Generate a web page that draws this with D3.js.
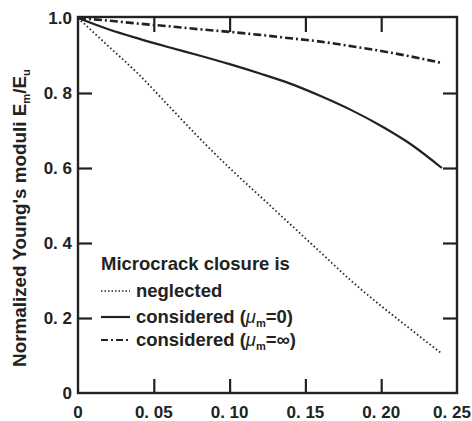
<!DOCTYPE html>
<html>
<head>
<meta charset="utf-8">
<script src="https://cdn.jsdelivr.net/npm/d3@7"></script>
<style>
  body { margin: 0; background: #fff; }
  svg { display: block; }
  .tick-label { font-family: "Liberation Sans", Arial, sans-serif; font-weight: bold; font-size: 17px; fill: #222; }
  .txt { font-family: "Liberation Sans", Arial, sans-serif; font-weight: bold; font-size: 18px; fill: #222; }
</style>
</head>
<body>
<div id="graph"></div>
<script>
// crack density (x) and normalized moduli for the three cases
const xValues = [0, 0.02, 0.04, 0.06, 0.08, 0.10, 0.12, 0.14, 0.16, 0.18, 0.20, 0.22, 0.24];
const neglected = [1.0, 0.925, 0.85, 0.765, 0.68, 0.60, 0.525, 0.45, 0.375, 0.30, 0.232, 0.168, 0.105];
const consideredZero = [1.0, 0.97, 0.945, 0.922, 0.90, 0.877, 0.852, 0.825, 0.792, 0.755, 0.712, 0.662, 0.60];
const consideredInf = [1.0, 0.993, 0.985, 0.978, 0.97, 0.963, 0.955, 0.946, 0.937, 0.925, 0.912, 0.897, 0.88];

const xTicks = [0, 0.05, 0.10, 0.15, 0.20, 0.25];
const xTickLabels = ["0", "0. 05", "0. 10", "0. 15", "0. 20", "0. 25"];
const yTicks = [0, 0.2, 0.4, 0.6, 0.8, 1.0];
const yTickLabels = ["0", "0. 2", "0. 4", "0. 6", "0. 8", "1.0"];

const width = 472, height = 421;
const margin = { left: 78, right: 457, top: 18, bottom: 393 };

const svg = d3.select("#graph").append("svg")
    .attr("width", width)
    .attr("height", height);

const xScale = d3.scaleLinear().domain([0, 0.25]).range([margin.left, margin.right]);
const yScale = d3.scaleLinear().domain([0, 1]).range([margin.bottom, margin.top]);

const tickLen = 14;

// axes with inward ticks on all four sides
const xAxisBottom = d3.axisTop(xScale).tickValues(xTicks.slice(1, -1)).tickSize(tickLen).tickFormat("");
const xAxisTop = d3.axisBottom(xScale).tickValues(xTicks.slice(1, -1)).tickSize(tickLen).tickFormat("");
const yAxisLeft = d3.axisRight(yScale).tickValues(yTicks.slice(1, -1)).tickSize(tickLen).tickFormat("");
const yAxisRight = d3.axisLeft(yScale).tickValues(yTicks.slice(1, -1)).tickSize(tickLen).tickFormat("");

function styleAxis(g) {
    g.select(".domain").remove();
    g.selectAll(".tick line").attr("stroke", "#222").attr("stroke-width", 2.2);
}

svg.append("g").attr("transform", `translate(0,${margin.bottom})`).call(xAxisBottom).call(styleAxis);
svg.append("g").attr("transform", `translate(0,${margin.top})`).call(xAxisTop).call(styleAxis);
svg.append("g").attr("transform", `translate(${margin.left},0)`).call(yAxisLeft).call(styleAxis);
svg.append("g").attr("transform", `translate(${margin.right},0)`).call(yAxisRight).call(styleAxis);

// frame
svg.append("rect")
    .attr("x", margin.left).attr("y", margin.top - 1)
    .attr("width", margin.right - margin.left).attr("height", margin.bottom - margin.top + 1)
    .attr("fill", "none").attr("stroke", "#222").attr("stroke-width", 2.4);

// tick labels
svg.append("g").selectAll("text")
    .data(xTicks)
    .join("text")
    .attr("class", "tick-label")
    .attr("x", d => Math.min(xScale(d), 452))
    .attr("y", 418)
    .attr("text-anchor", "middle")
    .text((d, i) => xTickLabels[i]);

svg.append("g").selectAll("text")
    .data(yTicks)
    .join("text")
    .attr("class", "tick-label")
    .attr("x", margin.left - 6)
    .attr("y", d => yScale(d) + 6)
    .attr("text-anchor", "end")
    .text((d, i) => yTickLabels[i]);

// shrink or grow a text so it spans the given length
function fitWidth(sel, target) {
    const len = sel.node().getComputedTextLength();
    const fs = parseFloat(getComputedStyle(sel.node()).fontSize);
    sel.style("font-size", (fs * target / len).toFixed(2) + "px");
}

// y axis title
const yTitle = svg.append("text")
    .attr("class", "txt")
    .attr("transform", "translate(26,218) rotate(-90)")
    .attr("text-anchor", "middle");
yTitle.append("tspan").text("Normalized Young's moduli E");
yTitle.append("tspan").attr("font-size", "0.6em").attr("dy", 4).text("m");
yTitle.append("tspan").attr("dy", -4).text("/E");
yTitle.append("tspan").attr("font-size", "0.6em").attr("dy", 4).text("u");
fitWidth(yTitle, 298);

// curves
const series = [
    { values: neglected, dash: "1.5,2.5", width: 1.8 },
    { values: consideredZero, dash: null, width: 2.2 },
    { values: consideredInf, dash: "8,3,2,3", width: 2.6 }
];

const line = d3.line()
    .x(d => xScale(d[0]))
    .y(d => yScale(d[1]))
    .curve(d3.curveMonotoneX);

series.forEach(s => {
    svg.append("path")
        .datum(xValues.map((x, i) => [x, s.values[i]]))
        .attr("d", line)
        .attr("fill", "none")
        .attr("stroke", "#222")
        .attr("stroke-width", s.width)
        .attr("stroke-dasharray", s.dash);
});

// legend
const legendTitle = svg.append("text").attr("class", "txt")
    .attr("x", 101).attr("y", 270)
    .text("Microcrack closure is");
fitWidth(legendTitle, 189);
const legendFont = legendTitle.style("font-size");

const legendRows = [
    { y: 297, dash: "1.5,2", width: 1.6, label: "neglected", mu: null },
    { y: 323, dash: null, width: 2.2, label: "considered (", mu: "0)" },
    { y: 346, dash: "7,3,2,3", width: 2.2, label: "considered (", mu: "\u221E)" }
];

legendRows.forEach(r => {
    svg.append("line")
        .attr("x1", 101).attr("x2", 130)
        .attr("y1", r.y - 6).attr("y2", r.y - 6)
        .attr("stroke", "#222")
        .attr("stroke-width", r.width)
        .attr("stroke-dasharray", r.dash);
    const t = svg.append("text").attr("class", "txt")
        .style("font-size", legendFont)
        .attr("x", 136).attr("y", r.y);
    t.append("tspan").text(r.label);
    if (r.mu) {
        t.append("tspan").attr("font-style", "italic").attr("font-weight", "normal").text("\u03BC");
        t.append("tspan").attr("font-size", "0.6em").attr("dy", 4).text("m");
        t.append("tspan").attr("dy", -4).text("=" + r.mu);
    }
});
</script>
</body>
</html>
